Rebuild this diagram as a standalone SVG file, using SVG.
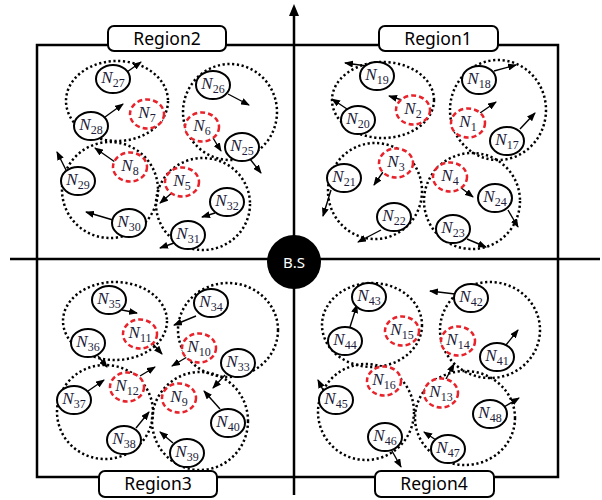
<svg xmlns="http://www.w3.org/2000/svg" width="602" height="500" viewBox="0 0 602 500">
<defs>
<marker id="ah" markerUnits="userSpaceOnUse" markerWidth="9" markerHeight="7" refX="8" refY="3.5" orient="auto"><path d="M0,0 L9,3.5 L0,7 z" fill="#000"/></marker>
<style>
.ax{stroke:#000;stroke-width:2.5;fill:none}
.cl{fill:none;stroke:#000;stroke-width:2.5;stroke-dasharray:2.2 2.6}
.b{fill:#fff;stroke:#000;stroke-width:2}
.r{fill:#fff;stroke:#e8232b;stroke-width:2.5;stroke-dasharray:5 3}
.t{font-family:"Liberation Serif",serif;font-size:17px;fill:#1c1c38;text-anchor:middle}
.n{font-style:italic}
.s{font-size:12px}
.c line{stroke:#000;stroke-width:1.4;marker-end:url(#ah)}
.lb{fill:#fff;stroke:#000;stroke-width:2}
.lt{font-family:"Noto Sans","Liberation Sans",sans-serif;font-size:17.5px;fill:#000;text-anchor:middle}
</style>
</defs>
<rect x="37" y="45" width="521" height="432" class="ax"/>
<line x1="10" y1="259" x2="600" y2="259" class="ax"/>
<line x1="294" y1="14" x2="294" y2="495" class="ax"/>
<polygon points="294,4 289,16 299,16" fill="#000"/>

<g id="clusters">
<ellipse cx="117" cy="101" rx="51" ry="40" class="cl"/>
<ellipse cx="230" cy="112" rx="47" ry="48" class="cl"/>
<ellipse cx="110" cy="190" rx="48" ry="48" class="cl"/>
<ellipse cx="203" cy="204" rx="47" ry="46" class="cl"/>
<ellipse cx="383" cy="100" rx="51" ry="38" class="cl"/>
<ellipse cx="498" cy="110" rx="48" ry="50" class="cl"/>
<ellipse cx="375" cy="191" rx="47" ry="48" class="cl"/>
<ellipse cx="472" cy="201" rx="48" ry="48" class="cl"/>
<ellipse cx="115" cy="321" rx="52" ry="39" class="cl"/>
<ellipse cx="228" cy="330" rx="50" ry="47" class="cl"/>
<ellipse cx="105" cy="412" rx="48" ry="47" class="cl"/>
<ellipse cx="200" cy="421" rx="48" ry="49" class="cl"/>
<ellipse cx="372" cy="325" rx="50" ry="42" class="cl"/>
<ellipse cx="490" cy="330" rx="50" ry="48" class="cl"/>
<ellipse cx="366" cy="412" rx="48" ry="48" class="cl"/>
<ellipse cx="465" cy="418" rx="50" ry="47" class="cl"/>
</g>

<g id="connectors" class="c">
<line x1="127" y1="72" x2="141" y2="62"/>
<line x1="105" y1="117" x2="123" y2="104"/>
<line x1="228" y1="94" x2="249" y2="105"/>
<line x1="213" y1="138" x2="221" y2="151"/>
<line x1="250" y1="159" x2="261" y2="173"/>
<line x1="115" y1="162" x2="95" y2="148"/>
<line x1="66" y1="170" x2="57" y2="152"/>
<line x1="113" y1="220" x2="86" y2="212"/>
<line x1="173" y1="192" x2="160" y2="203"/>
<line x1="215" y1="213" x2="202" y2="217"/>
<line x1="174" y1="243" x2="160" y2="248"/>
<line x1="367" y1="66" x2="345" y2="63"/>
<line x1="402" y1="100" x2="389" y2="96"/>
<line x1="347" y1="109" x2="332" y2="99"/>
<line x1="494" y1="71" x2="516" y2="65"/>
<line x1="480" y1="113" x2="496" y2="102"/>
<line x1="520" y1="129" x2="535" y2="113"/>
<line x1="383" y1="172" x2="374" y2="185"/>
<line x1="331" y1="190" x2="323" y2="216"/>
<line x1="381" y1="230" x2="358" y2="242"/>
<line x1="460" y1="187" x2="473" y2="197"/>
<line x1="508" y1="210" x2="518" y2="227"/>
<line x1="467" y1="239" x2="486" y2="247"/>
<line x1="122" y1="310" x2="137" y2="313"/>
<line x1="153" y1="344" x2="162" y2="354"/>
<line x1="98" y1="356" x2="107" y2="367"/>
<line x1="196" y1="316" x2="174" y2="325"/>
<line x1="187" y1="357" x2="172" y2="366"/>
<line x1="225" y1="375" x2="213" y2="388"/>
<line x1="140" y1="376" x2="155" y2="367"/>
<line x1="88" y1="391" x2="104" y2="380"/>
<line x1="136" y1="428" x2="149" y2="412"/>
<line x1="220" y1="409" x2="204" y2="391"/>
<line x1="173" y1="443" x2="160" y2="432"/>
<line x1="455" y1="294" x2="430" y2="291"/>
<line x1="350" y1="327" x2="357" y2="305"/>
<line x1="506" y1="345" x2="518" y2="330"/>
<line x1="446" y1="379" x2="454" y2="364"/>
<line x1="323" y1="390" x2="318" y2="380"/>
<line x1="392" y1="451" x2="401" y2="467"/>
<line x1="504" y1="407" x2="519" y2="398"/>
<line x1="436" y1="440" x2="424" y2="432"/>
</g>

<g id="N27"><ellipse cx="113" cy="79" rx="17" ry="14" class="b"/><text x="113" y="83" class="t"><tspan class="n">N</tspan><tspan class="s" dy="4">27</tspan></text></g>
<g id="N28"><ellipse cx="91" cy="126" rx="17" ry="14" class="b"/><text x="91" y="130" class="t"><tspan class="n">N</tspan><tspan class="s" dy="4">28</tspan></text></g>
<g id="N7"><ellipse cx="147" cy="114" rx="17" ry="14.5" class="r"/><text x="147" y="118" class="t"><tspan class="n">N</tspan><tspan class="s" dy="4">7</tspan></text></g>
<g id="N26"><ellipse cx="213" cy="85" rx="17" ry="14" class="b"/><text x="213" y="89" class="t"><tspan class="n">N</tspan><tspan class="s" dy="4">26</tspan></text></g>
<g id="N6"><ellipse cx="202" cy="127" rx="17" ry="14.5" class="r"/><text x="202" y="131" class="t"><tspan class="n">N</tspan><tspan class="s" dy="4">6</tspan></text></g>
<g id="N25"><ellipse cx="242" cy="147" rx="17" ry="14" class="b"/><text x="242" y="151" class="t"><tspan class="n">N</tspan><tspan class="s" dy="4">25</tspan></text></g>
<g id="N8"><ellipse cx="130" cy="167" rx="17" ry="14.5" class="r"/><text x="130" y="171" class="t"><tspan class="n">N</tspan><tspan class="s" dy="4">8</tspan></text></g>
<g id="N29"><ellipse cx="78" cy="181" rx="17" ry="14" class="b"/><text x="78" y="185" class="t"><tspan class="n">N</tspan><tspan class="s" dy="4">29</tspan></text></g>
<g id="N30"><ellipse cx="129" cy="223" rx="17" ry="14" class="b"/><text x="129" y="227" class="t"><tspan class="n">N</tspan><tspan class="s" dy="4">30</tspan></text></g>
<g id="N5"><ellipse cx="182" cy="182" rx="17" ry="14.5" class="r"/><text x="182" y="186" class="t"><tspan class="n">N</tspan><tspan class="s" dy="4">5</tspan></text></g>
<g id="N32"><ellipse cx="227" cy="202" rx="17" ry="14" class="b"/><text x="227" y="206" class="t"><tspan class="n">N</tspan><tspan class="s" dy="4">32</tspan></text></g>
<g id="N31"><ellipse cx="188" cy="235" rx="17" ry="14" class="b"/><text x="188" y="239" class="t"><tspan class="n">N</tspan><tspan class="s" dy="4">31</tspan></text></g>

<g id="N19"><ellipse cx="377" cy="76" rx="17" ry="14" class="b"/><text x="377" y="80" class="t"><tspan class="n">N</tspan><tspan class="s" dy="4">19</tspan></text></g>
<g id="N2"><ellipse cx="413" cy="110" rx="17" ry="14.5" class="r"/><text x="413" y="114" class="t"><tspan class="n">N</tspan><tspan class="s" dy="4">2</tspan></text></g>
<g id="N20"><ellipse cx="358" cy="120" rx="17" ry="14" class="b"/><text x="358" y="124" class="t"><tspan class="n">N</tspan><tspan class="s" dy="4">20</tspan></text></g>
<g id="N18"><ellipse cx="479" cy="80" rx="17" ry="14" class="b"/><text x="479" y="84" class="t"><tspan class="n">N</tspan><tspan class="s" dy="4">18</tspan></text></g>
<g id="N1"><ellipse cx="468" cy="123" rx="17" ry="14.5" class="r"/><text x="468" y="127" class="t"><tspan class="n">N</tspan><tspan class="s" dy="4">1</tspan></text></g>
<g id="N17"><ellipse cx="507" cy="141" rx="17" ry="14" class="b"/><text x="507" y="145" class="t"><tspan class="n">N</tspan><tspan class="s" dy="4">17</tspan></text></g>
<g id="N3"><ellipse cx="396" cy="163" rx="17" ry="14.5" class="r"/><text x="396" y="167" class="t"><tspan class="n">N</tspan><tspan class="s" dy="4">3</tspan></text></g>
<g id="N21"><ellipse cx="344" cy="178" rx="17" ry="14" class="b"/><text x="344" y="182" class="t"><tspan class="n">N</tspan><tspan class="s" dy="4">21</tspan></text></g>
<g id="N22"><ellipse cx="394" cy="217" rx="17" ry="14" class="b"/><text x="394" y="221" class="t"><tspan class="n">N</tspan><tspan class="s" dy="4">22</tspan></text></g>
<g id="N4"><ellipse cx="450" cy="177" rx="17" ry="14.5" class="r"/><text x="450" y="181" class="t"><tspan class="n">N</tspan><tspan class="s" dy="4">4</tspan></text></g>
<g id="N24"><ellipse cx="495" cy="198" rx="17" ry="14" class="b"/><text x="495" y="202" class="t"><tspan class="n">N</tspan><tspan class="s" dy="4">24</tspan></text></g>
<g id="N23"><ellipse cx="453" cy="229" rx="17" ry="14" class="b"/><text x="453" y="233" class="t"><tspan class="n">N</tspan><tspan class="s" dy="4">23</tspan></text></g>

<g id="N35"><ellipse cx="109" cy="300" rx="17" ry="14" class="b"/><text x="109" y="304" class="t"><tspan class="n">N</tspan><tspan class="s" dy="4">35</tspan></text></g>
<g id="N11"><ellipse cx="140" cy="334" rx="17" ry="14.5" class="r"/><text x="140" y="338" class="t"><tspan class="n">N</tspan><tspan class="s" dy="4">11</tspan></text></g>
<g id="N36"><ellipse cx="88" cy="343" rx="17" ry="14" class="b"/><text x="88" y="347" class="t"><tspan class="n">N</tspan><tspan class="s" dy="4">36</tspan></text></g>
<g id="N34"><ellipse cx="211" cy="303" rx="17" ry="14" class="b"/><text x="211" y="307" class="t"><tspan class="n">N</tspan><tspan class="s" dy="4">34</tspan></text></g>
<g id="N10"><ellipse cx="199" cy="348" rx="17" ry="14.5" class="r"/><text x="199" y="352" class="t"><tspan class="n">N</tspan><tspan class="s" dy="4">10</tspan></text></g>
<g id="N33"><ellipse cx="238" cy="363" rx="17" ry="14" class="b"/><text x="238" y="367" class="t"><tspan class="n">N</tspan><tspan class="s" dy="4">33</tspan></text></g>
<g id="N12"><ellipse cx="127" cy="387" rx="17" ry="14.5" class="r"/><text x="127" y="391" class="t"><tspan class="n">N</tspan><tspan class="s" dy="4">12</tspan></text></g>
<g id="N37"><ellipse cx="74" cy="400" rx="17" ry="14" class="b"/><text x="74" y="404" class="t"><tspan class="n">N</tspan><tspan class="s" dy="4">37</tspan></text></g>
<g id="N38"><ellipse cx="124" cy="440" rx="17" ry="14" class="b"/><text x="124" y="444" class="t"><tspan class="n">N</tspan><tspan class="s" dy="4">38</tspan></text></g>
<g id="N9"><ellipse cx="179" cy="398" rx="17" ry="14.5" class="r"/><text x="179" y="402" class="t"><tspan class="n">N</tspan><tspan class="s" dy="4">9</tspan></text></g>
<g id="N40"><ellipse cx="228" cy="423" rx="17" ry="14" class="b"/><text x="228" y="427" class="t"><tspan class="n">N</tspan><tspan class="s" dy="4">40</tspan></text></g>
<g id="N39"><ellipse cx="187" cy="453" rx="17" ry="14" class="b"/><text x="187" y="457" class="t"><tspan class="n">N</tspan><tspan class="s" dy="4">39</tspan></text></g>

<g id="N43"><ellipse cx="369" cy="297" rx="17" ry="14" class="b"/><text x="369" y="301" class="t"><tspan class="n">N</tspan><tspan class="s" dy="4">43</tspan></text></g>
<g id="N15"><ellipse cx="402" cy="331" rx="17" ry="14.5" class="r"/><text x="402" y="335" class="t"><tspan class="n">N</tspan><tspan class="s" dy="4">15</tspan></text></g>
<g id="N44"><ellipse cx="345" cy="341" rx="17" ry="14" class="b"/><text x="345" y="345" class="t"><tspan class="n">N</tspan><tspan class="s" dy="4">44</tspan></text></g>
<g id="N42"><ellipse cx="471" cy="298" rx="17" ry="14" class="b"/><text x="471" y="302" class="t"><tspan class="n">N</tspan><tspan class="s" dy="4">42</tspan></text></g>
<g id="N14"><ellipse cx="458" cy="341" rx="17" ry="14.5" class="r"/><text x="458" y="345" class="t"><tspan class="n">N</tspan><tspan class="s" dy="4">14</tspan></text></g>
<g id="N41"><ellipse cx="497" cy="357" rx="17" ry="14" class="b"/><text x="497" y="361" class="t"><tspan class="n">N</tspan><tspan class="s" dy="4">41</tspan></text></g>
<g id="N16"><ellipse cx="384" cy="381" rx="17" ry="14.5" class="r"/><text x="384" y="385" class="t"><tspan class="n">N</tspan><tspan class="s" dy="4">16</tspan></text></g>
<g id="N45"><ellipse cx="336" cy="400" rx="17" ry="14" class="b"/><text x="336" y="404" class="t"><tspan class="n">N</tspan><tspan class="s" dy="4">45</tspan></text></g>
<g id="N46"><ellipse cx="385" cy="437" rx="17" ry="14" class="b"/><text x="385" y="441" class="t"><tspan class="n">N</tspan><tspan class="s" dy="4">46</tspan></text></g>
<g id="N13"><ellipse cx="441" cy="393" rx="17" ry="14.5" class="r"/><text x="441" y="397" class="t"><tspan class="n">N</tspan><tspan class="s" dy="4">13</tspan></text></g>
<g id="N47"><ellipse cx="448" cy="449" rx="17" ry="14" class="b"/><text x="448" y="453" class="t"><tspan class="n">N</tspan><tspan class="s" dy="4">47</tspan></text></g>
<g id="N48"><ellipse cx="490" cy="414" rx="17" ry="14" class="b"/><text x="490" y="418" class="t"><tspan class="n">N</tspan><tspan class="s" dy="4">48</tspan></text></g>

<g id="BS"><circle cx="294" cy="262" r="27" fill="#000"/><text x="294" y="268" font-family="'Noto Sans','Liberation Sans',sans-serif" font-size="15" fill="#fff" text-anchor="middle">B.S</text></g>

<g id="Region2"><rect x="108" y="26" width="118" height="25" rx="6" class="lb"/><text x="167" y="45" class="lt">Region2</text></g>
<g id="Region1"><rect x="379" y="26" width="119" height="25" rx="6" class="lb"/><text x="438" y="45" class="lt">Region1</text></g>
<g id="Region3"><rect x="99" y="471" width="118" height="26" rx="6" class="lb"/><text x="158" y="490" class="lt">Region3</text></g>
<g id="Region4"><rect x="375" y="471" width="119" height="26" rx="6" class="lb"/><text x="434" y="490" class="lt">Region4</text></g>
</svg>
